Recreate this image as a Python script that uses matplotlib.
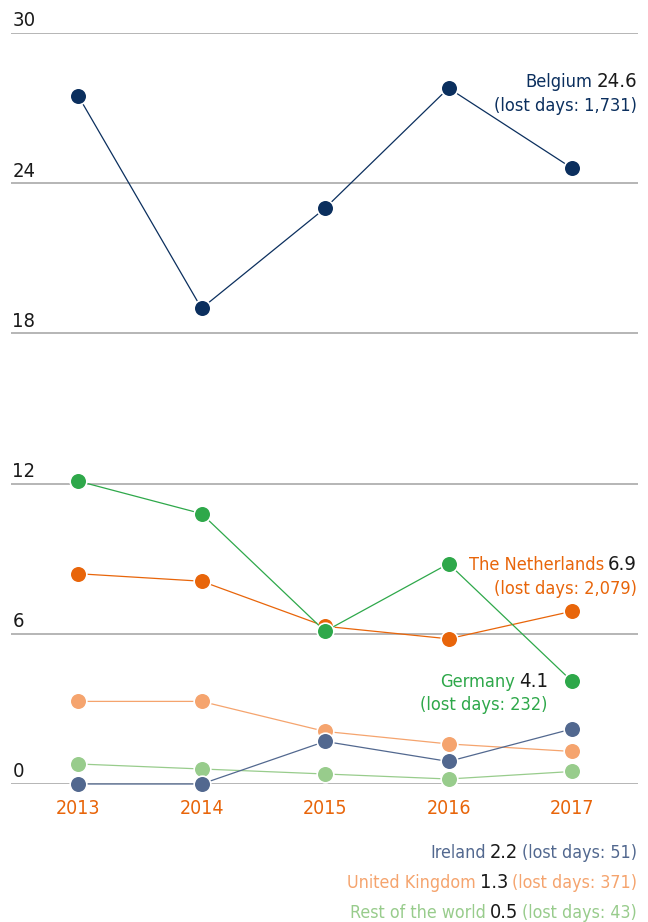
import matplotlib
matplotlib.use("Agg")
import matplotlib.pyplot as plt

plt.rcParams['font.family'] = ['DejaVu Sans']
plt.rcParams['font.stretch'] = 'condensed'

years = [2013, 2014, 2015, 2016, 2017]
belgium = [27.5, 19.0, 23.0, 27.8, 24.6]
germany = [12.1, 10.8, 6.1, 8.8, 4.1]
netherlands = [8.4, 8.1, 6.3, 5.8, 6.9]
uk = [3.3, 3.3, 2.1, 1.6, 1.3]
ireland = [0.0, 0.0, 1.7, 0.9, 2.2]
rest = [0.8, 0.6, 0.4, 0.2, 0.5]
yticks = [0, 6, 12, 18, 24, 30]

c_bel = '#0b2f5e'
c_ger = '#2ea84a'
c_ned = '#e8650a'
c_uk = '#f5a46e'
c_ire = '#52688f'
c_rest = '#98cc8c'

W, H = 648, 922
fig = plt.figure(figsize=(W / 100, H / 100), dpi=100)
ax = fig.add_axes([11 / W, (H - 784) / H, (638 - 11) / W, (784 - 33) / H])

for y in yticks:
    ax.axhline(y, color='#b0b0b0', lw=1.3, zorder=1)
    ax.text(0.002, y + 0.26, str(y), transform=ax.get_yaxis_transform(),
            fontsize=14.5, color='#1a1a1a', ha='left', va='baseline')

series = [(rest, c_rest), (uk, c_uk), (ireland, c_ire),
          (netherlands, c_ned), (germany, c_ger), (belgium, c_bel)]
for i, (vals, c) in enumerate(series):
    ax.plot(years, vals, color=c, lw=0.9, marker='o', markersize=12,
            markeredgecolor='white', markeredgewidth=1.2, zorder=3 + i,
            clip_on=False)

ax.set_xlim(2012.457, 2017.534)
ax.set_ylim(0, 30)
ax.set_yticks([])
ax.set_xticks(years)
ax.set_xticklabels([str(y) for y in years], fontsize=14, color=c_ned)
ax.tick_params(axis='x', length=0, pad=11)
for s in ax.spines.values():
    s.set_visible(False)

renderer = fig.canvas.get_renderer()


def rich_right(xr, yb, parts):
    # parts drawn right to left, baseline at pixel yb
    x = xr
    for s, c, fs in reversed(parts):
        t = fig.text(x / W, 1 - yb / H, s, color=c, fontsize=fs,
                     ha='right', va='baseline')
        x -= t.get_window_extent(renderer).width + 4


rich_right(637, 87, [('Belgium', c_bel, 13.1), ('24.6', '#1a1a1a', 14.6)])
rich_right(637, 111, [('(lost days: 1,731)', c_bel, 13.1)])
rich_right(637, 570, [('The Netherlands', c_ned, 13.1), ('6.9', '#1a1a1a', 14.6)])
rich_right(637, 594, [('(lost days: 2,079)', c_ned, 13.1)])
rich_right(548, 687, [('Germany', c_ger, 13.1), ('4.1', '#1a1a1a', 14.6)])
rich_right(548, 710, [('(lost days: 232)', c_ger, 13.1)])
rich_right(637, 858, [('Ireland', c_ire, 12.8), ('2.2', '#1a1a1a', 14.3), ('(lost days: 51)', c_ire, 12.8)])
rich_right(637, 888, [('United Kingdom', c_uk, 12.8), ('1.3', '#1a1a1a', 14.3), ('(lost days: 371)', c_uk, 12.8)])
rich_right(637, 918, [('Rest of the world', c_rest, 12.8), ('0.5', '#1a1a1a', 14.3), ('(lost days: 43)', c_rest, 12.8)])

fig.savefig('out.png', dpi=100)
